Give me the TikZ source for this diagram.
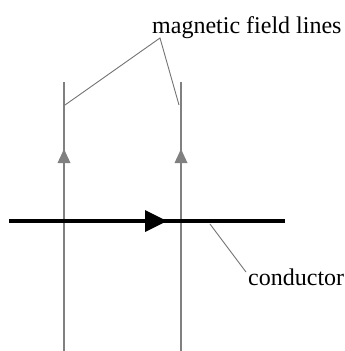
\documentclass[tikz,border=0pt]{standalone}
\usepackage{fontspec}
\setmainfont{Liberation Serif}
\begin{document}
\begin{tikzpicture}[x=1pt,y=-1pt,
  fieldline/.style={draw=black!50,line width=2pt},
  fieldtip/.style={fill=black!50},
  leader/.style={draw=black!55,line width=0.9pt},
  lbl/.style={font=\fontsize{24}{28}\selectfont,inner sep=0pt,anchor=base west}]
\useasboundingbox (0,0) rectangle (345,351);
\coordinate (f1b) at (64,351);
\coordinate (f1t) at (64,82);
\coordinate (f2b) at (181,351);
\coordinate (f2t) at (181,82);
\draw[fieldline] (f1b) -- (f1t);
\draw[fieldline] (f2b) -- (f2t);
\fill[fieldtip] (64,149) -- (57.5,163) -- (70.5,163) -- cycle;
\fill[fieldtip] (181,149) -- (174.5,163) -- (187.5,163) -- cycle;
\coordinate (cl) at (9,221);
\coordinate (cr) at (285,221);
\coordinate (cm) at (167,221);
\draw[line width=4pt,black] (cl) -- (cr);
\fill[black] (cm) -- (145,210) -- (145,232) -- cycle;
\node[lbl] (mfl) at (152,33) {magnetic field lines};
\node[lbl] (cond) at (248,285) {conductor};
\coordinate (mj) at (160,38);
\coordinate (m1) at (65,105);
\coordinate (m2) at (179,105);
\draw[leader] (m1) -- (mj) -- (m2);
\coordinate (c1) at (210,224);
\coordinate (c2) at (246,272);
\draw[leader] (c1) -- (c2);
\end{tikzpicture}
\end{document}
